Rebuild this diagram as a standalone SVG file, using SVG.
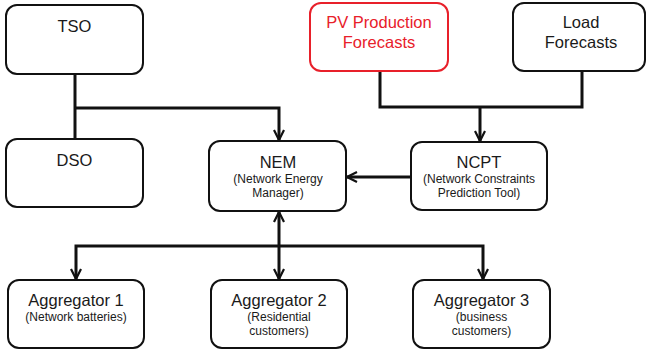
<svg xmlns="http://www.w3.org/2000/svg" width="646" height="359" viewBox="0 0 646 359">
<style>
.box{fill:#fff;stroke:#111;stroke-width:2}
.red{stroke:#e8202a}
.t{font-family:"Liberation Sans",Arial,sans-serif;font-size:16.5px;fill:#1a1a1a;text-anchor:middle}
.s{font-family:"Liberation Sans",Arial,sans-serif;font-size:12px;fill:#1a1a1a;text-anchor:middle}
.rt{fill:#e8202a}
.c{fill:none;stroke:#111;stroke-width:3}
</style>
<defs>
<marker id="ah" viewBox="0 0 12 12" refX="11" refY="6" markerWidth="12" markerHeight="12" markerUnits="userSpaceOnUse" orient="auto-start-reverse">
<path d="M1,1 L11,6 L1,11" fill="none" stroke="#111" stroke-width="2.2"/>
</marker>
</defs>
<rect width="646" height="359" fill="#fff"/>
<g id="connectors">
<path class="c" d="M75,74 V139"/>
<path class="c" d="M75,108 H279 V140" marker-end="url(#ah)"/>
<path class="c" d="M380,71 V107 H582 V71"/>
<path class="c" d="M480,107 V141" marker-end="url(#ah)"/>
<path class="c" d="M411,177 H347" marker-end="url(#ah)"/>
<path class="c" d="M279,212 V279" marker-start="url(#ah)" marker-end="url(#ah)"/>
<path class="c" d="M76,279 V246 H483 V279" marker-start="url(#ah)" marker-end="url(#ah)"/>
</g>
<g id="tso"><rect class="box" x="6" y="5" width="137" height="69" rx="11"/><text class="t" x="74.5" y="32">TSO</text></g>
<g id="dso"><rect class="box" x="6" y="139" width="137" height="68" rx="11"/><text class="t" x="74.5" y="166">DSO</text></g>
<g id="pv"><rect class="box red" x="310" y="3" width="138" height="68" rx="11"/><text class="t rt" x="379" y="28">PV Production</text><text class="t rt" x="379" y="48">Forecasts</text></g>
<g id="load"><rect class="box" x="513" y="3" width="132" height="68" rx="11"/><text class="t" x="581" y="28">Load</text><text class="t" x="581" y="48">Forecasts</text></g>
<g id="nem"><rect class="box" x="209" y="141" width="137" height="70" rx="11"/><text class="t" x="278" y="168">NEM</text><text class="s" x="278" y="183">(Network Energy</text><text class="s" x="278" y="197">Manager)</text></g>
<g id="ncpt"><rect class="box" x="411" y="142" width="136" height="68" rx="11"/><text class="t" x="479" y="168">NCPT</text><text class="s" x="479" y="183">(Network Constraints</text><text class="s" x="479" y="197">Prediction Tool)</text></g>
<g id="agg1"><rect class="box" x="8" y="280" width="136" height="68" rx="11"/><text class="t" x="76" y="306">Aggregator 1</text><text class="s" x="76" y="321">(Network batteries)</text></g>
<g id="agg2"><rect class="box" x="211" y="280" width="136" height="68" rx="11"/><text class="t" x="279" y="306">Aggregator 2</text><text class="s" x="279" y="321">(Residential</text><text class="s" x="279" y="335">customers)</text></g>
<g id="agg3"><rect class="box" x="413" y="280" width="137" height="68" rx="11"/><text class="t" x="481.5" y="306">Aggregator 3</text><text class="s" x="481.5" y="321">(business</text><text class="s" x="481.5" y="335">customers)</text></g>
</svg>
